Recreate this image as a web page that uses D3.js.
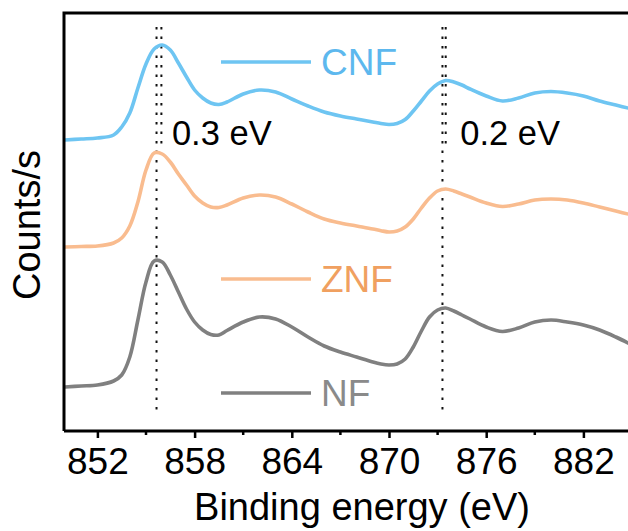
<!DOCTYPE html>
<html>
<head>
<meta charset="utf-8">
<script src="https://cdn.jsdelivr.net/npm/d3@7/dist/d3.min.js"></script>
<style>
  html, body { margin: 0; padding: 0; background: #fff; }
  svg { display: block; font-family: "Liberation Sans", Arial, Helvetica, sans-serif; }
</style>
</head>
<body>
<svg id="chart" width="628" height="531"></svg>
<script>
// Ni 2p XPS spectra, stacked (intensity in arbitrary units)
const energy = [850, 851, 852, 853, 853.5, 854, 854.5, 855, 855.5, 856, 856.5, 857, 857.5, 858, 858.5,
  859, 859.5, 860, 861, 862, 863, 864, 865, 866, 867, 868, 869, 869.5, 870, 870.5, 871, 871.5, 872,
  872.5, 873, 873.5, 874, 874.5, 875, 876, 877, 878, 879, 880, 881, 882, 883, 884, 885];

const cnf = [290, 291, 292, 295, 303, 317, 342, 366, 381, 385, 380, 367, 353, 340, 332,
  327, 325.5, 328, 336, 340, 338, 331, 324, 318, 314, 311, 308, 306.5, 305.5, 306.5, 310.5, 319, 329,
  339, 346, 349.5, 348, 345, 341, 334, 329, 332, 337, 338.5, 337, 334, 329, 325, 321];

const znf = [183, 183.5, 184, 187, 192, 204, 228, 260, 277, 276, 268, 256, 245, 234, 227,
  223, 222.5, 225, 232, 235, 233, 226, 218, 211, 207, 204, 201, 199.3, 198, 199, 203, 211, 222,
  232, 239, 241, 239, 236, 233, 227, 223.5, 226, 230, 231, 230, 227, 223, 219, 215];

const nf = [43, 44, 45, 49, 55, 73, 110, 148, 169, 168, 155, 138, 121, 108, 100,
  95.5, 95, 99.5, 108, 113, 111, 103, 93, 84, 78, 73, 68, 66, 65, 66, 71, 83, 99,
  113, 120, 122, 119, 115, 111, 103, 98.5, 102, 108, 110, 108, 105, 100, 93, 85];

const seriesNames = ["CNF", "ZNF", "NF"];
const seriesValues = [cnf, znf, nf];
const lineColors = ["#6EC5F2", "#F9BC8F", "#808080"];
const labelColors = ["#5DB8EE", "#F0A060", "#8A8A8A"];

const majorTicks = [852, 858, 864, 870, 876, 882];
const minorTicks = [855, 861, 867, 873, 879];

// peak reference lines: [position (eV), lower end (a.u.)]
const refLines = [[855.65, 18], [855.95, 282], [873.3, 18], [873.5, 282]];
const refTop = 403;
const shiftLabels = ["0.3 eV", "0.2 eV"];
const shiftAt = [856.6, 874.4];

const svg = d3.select("#chart");
const M = { left: 64, top: 13, bottom: 431 };

const x = d3.scaleLinear().domain([850, 885]).range([65, 632]);
const y = d3.scaleLinear().domain([0, 416]).range([430, 14]);

// reference dotted lines
svg.append("g").selectAll("line").data(refLines).join("line")
  .attr("x1", d => x(d[0])).attr("x2", d => x(d[0]))
  .attr("y1", y(refTop)).attr("y2", d => y(d[1]))
  .attr("stroke", "#111").attr("stroke-width", 2)
  .attr("stroke-dasharray", "2.5,7");

// spectra
const line = d3.line()
  .x((d, i) => x(energy[i]))
  .y(d => y(d))
  .curve(d3.curveCatmullRom.alpha(0.5));

svg.append("g").selectAll("path").data(seriesValues).join("path")
  .attr("d", d => line(d))
  .attr("fill", "none")
  .attr("stroke", (d, i) => lineColors[i])
  .attr("stroke-width", 3.6)
  .attr("stroke-linejoin", "round")
  .attr("stroke-linecap", "round");

// series labels placed next to each spectrum
const legendY = [62, 279, 393];
const legend = svg.append("g").selectAll("g").data(seriesNames).join("g")
  .attr("transform", (d, i) => `translate(0,${legendY[i]})`);
legend.append("line")
  .attr("x1", 221).attr("x2", 311)
  .attr("stroke", (d, i) => lineColors[i]).attr("stroke-width", 3.6);
legend.append("text")
  .attr("x", 321).attr("y", 13)
  .attr("font-size", 37)
  .attr("fill", (d, i) => labelColors[i])
  .text(d => d);

// shift annotations
svg.append("g").selectAll("text").data(shiftLabels).join("text")
  .attr("x", (d, i) => x(shiftAt[i]))
  .attr("y", 145)
  .attr("font-size", 34.5)
  .attr("fill", "#000")
  .text(d => d);

// frame (right edge runs past the viewport)
svg.append("path")
  .attr("d", `M${M.left},${M.bottom}V${M.top}H660M${M.left},${M.bottom}H660`)
  .attr("fill", "none").attr("stroke", "#000").attr("stroke-width", 3);

// bottom axis
const axis = svg.append("g").attr("transform", `translate(0,${M.bottom})`)
  .call(d3.axisBottom(x).tickValues(majorTicks).tickSize(7).tickSizeOuter(0).tickFormat(d3.format("d")));
axis.select(".domain").remove();
axis.selectAll(".tick line").attr("stroke", "#000").attr("stroke-width", 2.5);
axis.selectAll(".tick text")
  .attr("dy", null).attr("y", 43)
  .attr("font-size", 37)
  .attr("font-family", "Liberation Sans, Arial, sans-serif")
  .attr("fill", "#000");

svg.append("g").selectAll("line").data(minorTicks).join("line")
  .attr("x1", d => x(d)).attr("x2", d => x(d))
  .attr("y1", M.bottom).attr("y2", M.bottom + 4)
  .attr("stroke", "#000").attr("stroke-width", 2.5);

// axis titles
svg.append("text")
  .attr("x", 362).attr("y", 520)
  .attr("text-anchor", "middle")
  .attr("font-size", 38)
  .text("Binding energy (eV)");

svg.append("text")
  .attr("transform", "translate(40,225) rotate(-90)")
  .attr("text-anchor", "middle")
  .attr("font-size", 38)
  .text("Counts/s");
</script>
</body>
</html>
